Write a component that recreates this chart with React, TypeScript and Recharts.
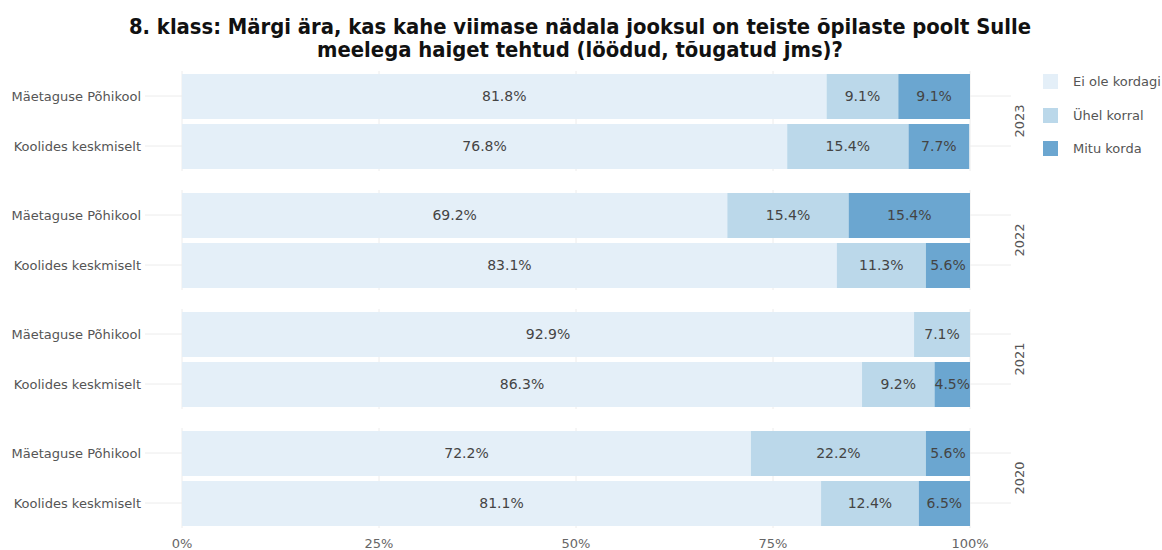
import React from 'react';
import { BarChart, Bar, XAxis, YAxis, CartesianGrid, LabelList, ReferenceLine } from 'recharts';

const categories = ['Mäetaguse Põhikool', 'Koolides keskmiselt'];
const years = ['2023', '2022', '2021', '2020'];
const seriesNames = ['Ei ole kordagi', 'Ühel korral', 'Mitu korda'];
const seriesKeys = ['never', 'once', 'many'];
const colors = ['#e4eff8', '#bbd8ea', '#6ba6d0'];

const never = [
  [81.8, 76.8],
  [69.2, 83.1],
  [92.9, 86.3],
  [72.2, 81.1],
];
const once = [
  [9.1, 15.4],
  [15.4, 11.3],
  [7.1, 9.2],
  [22.2, 12.4],
];
const many = [
  [9.1, 7.7],
  [15.4, 5.6],
  [0, 4.5],
  [5.6, 6.5],
];
const xTicks = [0, 25, 50, 75, 100];

const FONT = '"DejaVu Sans", Verdana, sans-serif';
const W = 1162;
const PLOT_LEFT = 182;
const PLOT_RIGHT = 970;
const PANEL_TOPS = [71, 190, 309, 427.5];
const PANEL_H = 100;

const fmt = (v: any) => (typeof v === 'number' && v > 0 ? `${v.toFixed(1)}%` : '');

const YTick = (props: any) => {
  const { y, payload } = props;
  return (
    <text x={141} y={y} dy={4.5} textAnchor="end" fontSize={13} fill="#555" fontFamily={FONT}>
      {payload.value}
    </text>
  );
};

function Panel({ idx }: { idx: number }) {
  const data = categories.map((c, i) => ({
    name: c,
    never: never[idx][i],
    once: once[idx][i],
    many: many[idx][i],
  }));
  const last = idx === years.length - 1;
  const h = PANEL_H + (last ? 22 : 0);
  return (
    <div style={{ position: 'absolute', left: 0, top: PANEL_TOPS[idx] }}>
      <BarChart
        width={W}
        height={h}
        data={data}
        layout="vertical"
        margin={{ top: 0, right: W - PLOT_RIGHT, bottom: 0, left: 0 }}
        style={{ overflow: 'visible' }}
      >
        <CartesianGrid horizontal={false} vertical stroke="#ececec" />
        <XAxis
          type="number"
          domain={[0, 100]}
          ticks={xTicks}
          hide={!last}
          axisLine={false}
          tickLine={false}
          tickSize={0}
          tickMargin={11}
          height={22}
          tickFormatter={(v: number) => `${v}%`}
          tick={{ fontSize: 13, fill: '#666', fontFamily: FONT }}
          allowDataOverflow
        />
        <YAxis
          type="category"
          dataKey="name"
          width={PLOT_LEFT}
          axisLine={false}
          tickLine={false}
          tick={<YTick />}
        />
        {categories.map((c) => (
          <ReferenceLine
            key={'l' + c}
            segment={[{ x: -4.7, y: c }, { x: 0, y: c }]}
            stroke="#ececec"
            ifOverflow="visible"
          />
        ))}
        {categories.map((c) => (
          <ReferenceLine
            key={'r' + c}
            segment={[{ x: 100, y: c }, { x: 105.2, y: c }]}
            stroke="#ececec"
            ifOverflow="visible"
          />
        ))}
        {seriesKeys.map((k, si) => (
          <Bar key={k} dataKey={k} stackId="a" fill={colors[si]} barSize={45} isAnimationActive={false}>
            <LabelList
              dataKey={k}
              position="center"
              formatter={fmt}
              fill="#444"
              fontSize={14}
              fontFamily={FONT}
            />
          </Bar>
        ))}
      </BarChart>
      <div
        style={{
          position: 'absolute',
          left: 1020 - 50,
          top: PANEL_H / 2 - 10,
          width: 100,
          height: 20,
          textAlign: 'center',
          transform: 'rotate(-90deg)',
          fontFamily: FONT,
          fontSize: 13,
          color: '#555',
          lineHeight: '20px',
        }}
      >
        {years[idx]}
      </div>
    </div>
  );
}

export default function App() {
  return (
    <div style={{ position: 'absolute', left: 0, top: 0, width: W, height: 550, background: '#fff', overflow: 'hidden' }}>
      <div
        style={{
          position: 'absolute',
          left: 0,
          top: 15,
          width: 1160,
          textAlign: 'center',
          fontFamily: '"DejaVu Sans Condensed", "DejaVu Sans", sans-serif',
          fontWeight: 'bold',
          fontSize: 21.8,
          lineHeight: '23px',
          color: '#111',
        }}
      >
        8. klass: Märgi ära, kas kahe viimase nädala jooksul on teiste õpilaste poolt Sulle
        <br />
        meelega haiget tehtud (löödud, tõugatud jms)?
      </div>
      {years.map((y, i) => (
        <Panel key={y} idx={i} />
      ))}
      <div style={{ position: 'absolute', left: 1043, top: 65 }}>
        {seriesNames.map((n, i) => (
          <div key={n} style={{ display: 'flex', alignItems: 'center', height: 33.5 }}>
            <div style={{ width: 15, height: 15, background: colors[i] }} />
            <span style={{ marginLeft: 15, fontFamily: FONT, fontSize: 13, color: '#555' }}>{n}</span>
          </div>
        ))}
      </div>
    </div>
  );
}
